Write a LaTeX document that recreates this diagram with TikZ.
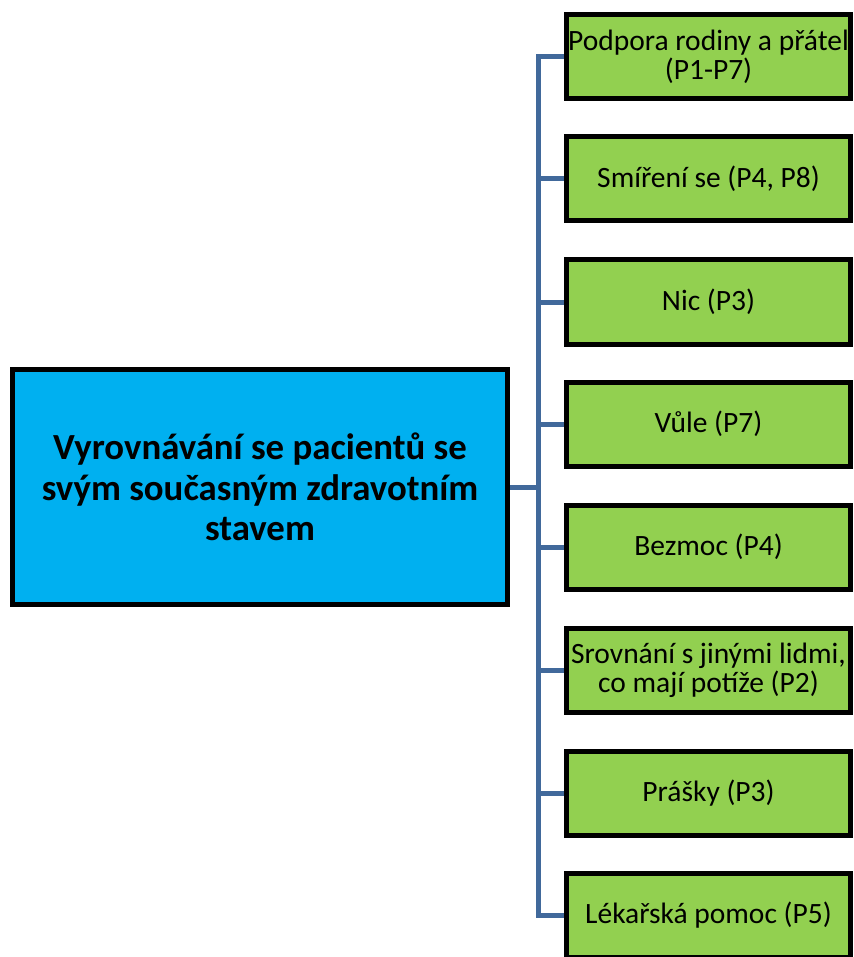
\documentclass[tikz,border=0pt]{standalone}
\usepackage{fontspec}
\setmainfont{Carlito}
\usetikzlibrary{backgrounds,shadows}
\definecolor{mainblue}{HTML}{00B0F0}
\definecolor{leafgreen}{HTML}{92D050}
\definecolor{linkblue}{HTML}{41699B}
\begin{document}
\begin{tikzpicture}[x=1pt,y=-1pt,
  boxshadow/.style={general shadow={fill=black!45, shadow xshift=-1.2pt, shadow yshift=-1.5pt}},
  mainbox/.style={draw=black, line width=5pt, fill=mainblue, boxshadow,
    minimum width=495pt, minimum height=235pt, align=center, inner sep=0pt,
    font=\fontsize{36.8}{40.5}\selectfont\bfseries},
  leaf/.style={draw=black, line width=5pt, fill=leafgreen, boxshadow,
    minimum width=284pt, minimum height=84pt, align=center, inner sep=0pt,
    font=\fontsize{29.5}{29}\selectfont},
  link/.style={draw=linkblue, line width=5pt, line join=miter}]
  \useasboundingbox (0,0) rectangle (853,957);

  % central topic
  \node[mainbox] (main) at (260,487) {Vyrovnávání se pacientů se\\svým současným zdravotním\\stavem};

  % coping strategies
  \node[leaf] (l1) at (708.5,57)  {Podpora rodiny a přátel\\(P1-P7)};
  \node[leaf] (l2) at (708.5,179) {Smíření se (P4, P8)};
  \node[leaf] (l3) at (708.5,302) {Nic (P3)};
  \node[leaf] (l4) at (708.5,424) {Vůle (P7)};
  \node[leaf] (l5) at (708.5,547) {Bezmoc (P4)};
  \node[leaf] (l6) at (708.5,670) {Srovnání s jinými lidmi,\\co mají potíže (P2)};
  \node[leaf] (l7) at (708.5,793) {Prášky (P3)};
  \node[leaf] (l8) at (708.5,915) {Lékařská pomoc (P5)};

  \coordinate (bus) at (538,487);

  % tree connectors
  \begin{scope}[on background layer]
    \draw[link] (l1.west) -- (l1.west -| bus) -- (l8.west -| bus) -- (l8.west);
    \draw[link] (main.east) -- (bus);
    \foreach \n in {l2,l3,l4,l5,l6,l7}
      \draw[link] (\n.west) -- (\n.west -| bus);
  \end{scope}
\end{tikzpicture}
\end{document}
